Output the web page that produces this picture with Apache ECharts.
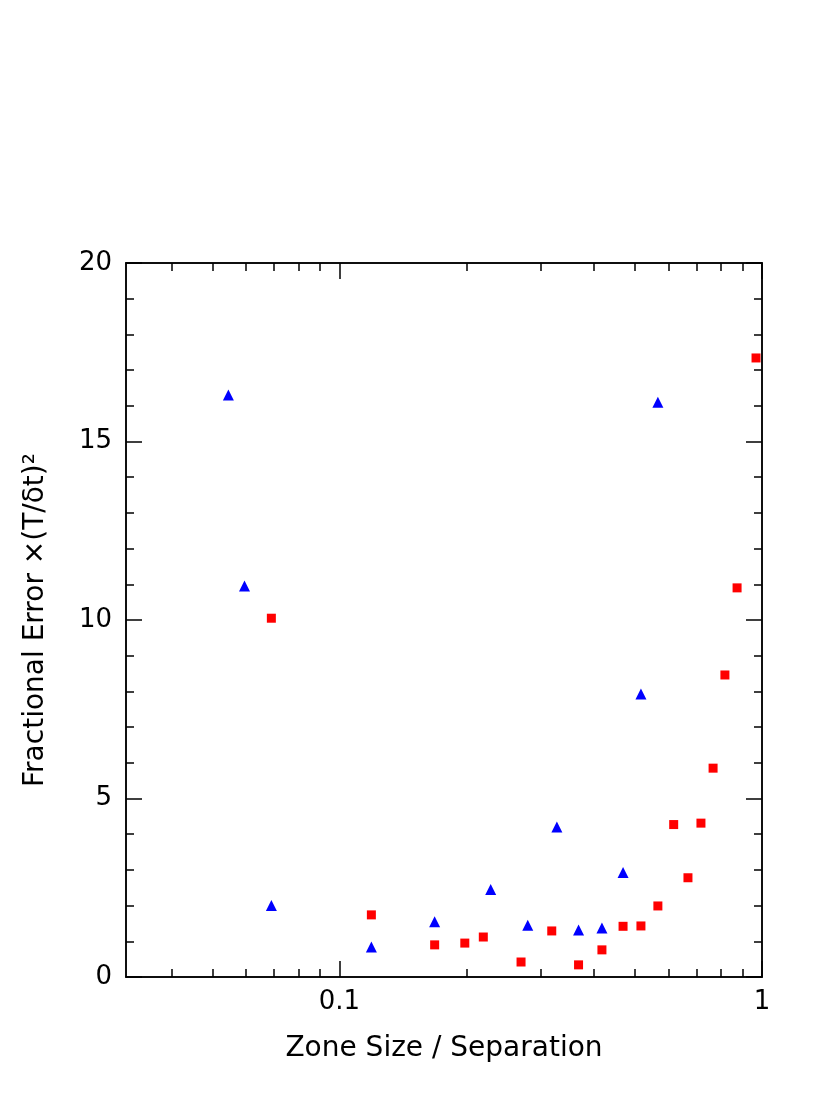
<!DOCTYPE html>
<html><head><meta charset="utf-8">
<script src="https://cdn.jsdelivr.net/npm/echarts@6/dist/echarts.min.js"></script>
<style>html,body{margin:0;background:#fff}#c{width:830px;height:1106px}</style>
</head><body><div id="c"></div>
<script>
const blueX=[0.0546,0.0596,0.069,0.119,0.168,0.228,0.279,0.327,0.368,0.418,0.469,0.517,0.567];
const blueY=[16.3,10.95,2.0,0.84,1.55,2.45,1.45,4.2,1.32,1.37,2.93,7.93,16.1];
const redX=[0.069,0.119,0.168,0.198,0.219,0.269,0.318,0.368,0.418,0.469,0.517,0.567,0.618,0.668,0.717,0.766,0.817,0.873,0.968];
const redY=[10.05,1.74,0.9,0.95,1.12,0.42,1.29,0.34,0.76,1.42,1.43,1.99,4.27,2.78,4.31,5.85,8.46,10.9,17.34];
const xTickVals=[0.04,0.05,0.06,0.07,0.08,0.09,0.1,0.2,0.3,0.4,0.5,0.6,0.7,0.8,0.9,1];
const xMajor=[0.1,1];
const L=Math.log10;
const xMin=L(1/32), xMax=0;
const font='DejaVu Sans';
function xAx(show,pos,len,vals){return {type:'value',min:xMin,max:xMax,position:pos,
 axisLine:{show:true,onZero:false,lineStyle:{color:'#000',width:1.5}},splitLine:{show:false},
 axisTick:{show:true,inside:true,length:len,customValues:vals.map(L),lineStyle:{color:'#000',width:1.5}},
 axisLabel:{show:show,customValues:xMajor.map(L),formatter:v=>(Math.abs(v)<1e-9?'1':'0.1'),color:'#000',fontSize:26,fontFamily:font,margin:12}};}
function yAx(show,pos,len,interval){return {type:'value',min:0,max:20,interval:interval,position:pos,
 axisLine:{show:true,onZero:false,lineStyle:{color:'#000',width:1.5}},splitLine:{show:false},
 axisTick:{show:true,inside:true,length:len,lineStyle:{color:'#000',width:1.5}},
 axisLabel:{show:show,color:'#000',fontSize:26,fontFamily:font,margin:14}};}
const xa=[xAx(true,'bottom',8,xTickVals.filter(v=>!xMajor.includes(v))),xAx(false,'bottom',16,xMajor),
 xAx(false,'top',8,xTickVals.filter(v=>!xMajor.includes(v))),xAx(false,'top',16,xMajor)];
xa[0].name='Zone Size / Separation';xa[0].nameLocation='middle';xa[0].nameGap=58;
xa[0].nameTextStyle={fontSize:28,fontFamily:font,color:'#000'};
const ya=[yAx(true,'left',16,5),yAx(false,'left',8,1),yAx(false,'right',16,5),yAx(false,'right',8,1)];
ya[0].name='Fractional Error ×(T/δt)²';ya[0].nameLocation='middle';ya[0].nameGap=76;
ya[0].nameTextStyle={fontSize:28,fontFamily:font,color:'#000'};
const chart=echarts.init(document.getElementById('c'));
chart.setOption({animation:false,
 grid:{left:126,right:68,top:263,bottom:129},
 xAxis:xa,yAxis:ya,
 series:[
  {type:'scatter',symbol:'triangle',symbolSize:11,itemStyle:{color:'#0000ff',opacity:1},data:blueX.map((x,i)=>[L(x),blueY[i]])},
  {type:'scatter',symbol:'rect',symbolSize:9,itemStyle:{color:'#ff0000',opacity:1},data:redX.map((x,i)=>[L(x),redY[i]])}
 ]});
</script></body></html>
